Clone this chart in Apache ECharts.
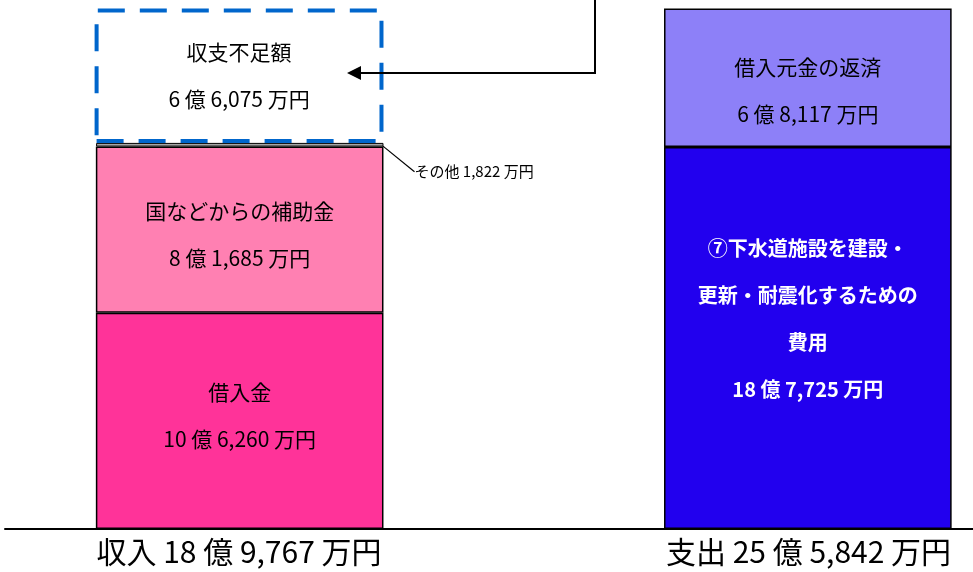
<!DOCTYPE html>
<html><head><meta charset="utf-8">
<script src="https://cdn.jsdelivr.net/npm/echarts@6/dist/echarts.min.js"></script>
<style>html,body{margin:0;padding:0;background:#fff}#c{width:973px;height:572px}</style>
</head><body><div id="c"></div>
<script>
// categories (bar totals shown below the bars)
const categories = ['収入 18 億 9,767 万円', '', '支出 25 億 5,842 万円'];
// segment names
const names = ['借入金', '国などからの補助金', 'その他', '収支不足額', '⑦下水道施設を建設・\n更新・耐震化するための\n費用', '借入元金の返済'];
// values in 万円 (per category: 収入, gap, 支出)
const loans      = [106260, '-', '-'];
const subsidies  = [81685, '-', '-'];
const others     = [1822, '-', '-'];
const shortfall  = [66075, '-', '-'];
const facilities = ['-', '-', 187725];
const repayment  = ['-', '-', 68117];

const FONT = '"Noto Sans CJK JP", "Noto Sans", sans-serif';
function fmt(v) {
  const oku = Math.floor(v / 10000), man = v % 10000;
  const m = man.toLocaleString('en-US');
  return (oku > 0 ? oku + ' 億 ' : '') + m + ' 万円';
}
function nameLines(n) { return n.split('\n'); }
function labelFor(name, color, bold, offset) {
  return {
    show: true, position: 'inside', offset: offset || [0, 0],
    color: color, fontFamily: FONT, fontSize: bold ? 20 : 21, fontWeight: bold ? 'bold' : 'normal',
    lineHeight: 47,
    formatter: p => nameLines(name).concat([fmt(p.value)]).join('\n')
  };
}
const border = { borderColor: '#000', borderWidth: 1.5 };
const series = [
  { name: names[0], type: 'bar', stack: 't', data: loans, barWidth: 289,
    itemStyle: Object.assign({ color: '#FF3399' }, border), label: labelFor(names[0], '#000', false, [0, -5]) },
  { name: names[1], type: 'bar', stack: 't', data: subsidies,
    itemStyle: Object.assign({ color: '#FF80B2' }, border), label: labelFor(names[1], '#000', false, [0, 5]) },
  { name: names[2], type: 'bar', stack: 't', data: others,
    itemStyle: { color: '#A6A6A6', borderColor: '#000', borderWidth: 1 },
    label: { show: true, position: 'right', color: '#000', fontFamily: FONT, fontSize: 15,
      formatter: p => names[2] + ' ' + fmt(p.value) },
    labelLayout: { dx: 26, dy: 27 },
    labelLine: { show: true, lineStyle: { color: '#000', width: 1.2 } } },
  { name: names[3], type: 'bar', stack: 't', data: shortfall,
    itemStyle: { color: '#fff', borderColor: '#0066CC', borderWidth: 4, borderType: [27, 15] },
    label: labelFor(names[3], '#000', false, [0, 0]) },
  { name: names[4], type: 'bar', stack: 't', data: facilities,
    itemStyle: Object.assign({ color: '#2200EE' }, border), label: labelFor(names[4], '#fff', true, [0, -19]) },
  { name: names[5], type: 'bar', stack: 't', data: repayment,
    itemStyle: Object.assign({ color: '#8D80F8' }, border), label: labelFor(names[5], '#000', false, [0, 13]) }
];

const chart = echarts.init(document.getElementById('c'));
chart.setOption({
  animation: false,
  grid: [
    { left: 96.6, right: 22.1, top: 0, bottom: 43 },
    { left: 5, right: 0, top: 0, bottom: 43 }
  ],
  xAxis: [
    { type: 'category', gridIndex: 0, data: categories,
      axisLine: { show: false }, axisTick: { show: false },
      axisLabel: { interval: 0, color: '#000', fontFamily: FONT, fontSize: 30, margin: 8 } },
    { type: 'value', gridIndex: 1, min: 0, max: 1,
      axisLine: { show: true, onZero: false, lineStyle: { color: '#000', width: 2 } },
      axisTick: { show: false }, axisLabel: { show: false }, splitLine: { show: false } }
  ],
  yAxis: [
    { type: 'value', gridIndex: 0, min: 0, max: 260000, show: false },
    { type: 'value', gridIndex: 1, min: 0, max: 1, show: false }
  ],
  series: series,
  graphic: [
    { type: 'polyline', z: 100, shape: { points: [[595, 0], [595, 73], [360, 73]] },
      style: { stroke: '#000', lineWidth: 2, fill: null } },
    { type: 'polygon', z: 100, shape: { points: [[347, 73], [361, 66], [361, 80]] },
      style: { fill: '#000' } }
  ]
});
</script></body></html>
